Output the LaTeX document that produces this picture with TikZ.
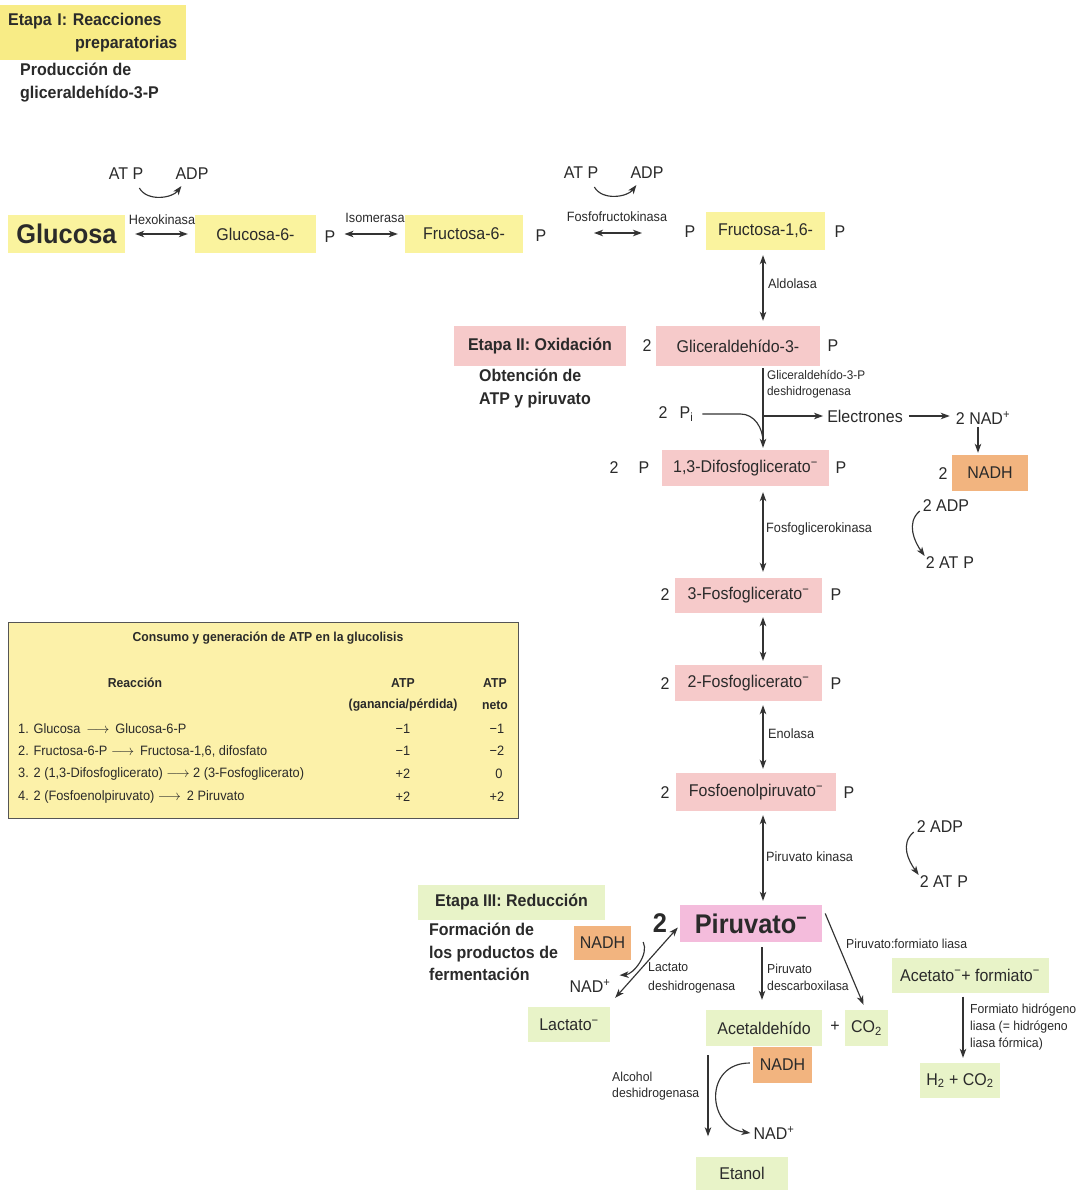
\documentclass[tikz,border=0pt]{standalone}
\usepackage{fontspec}
\setmainfont{Liberation Sans}[FakeStretch=0.94]
\usetikzlibrary{arrows.meta,calc}
\definecolor{txt}{HTML}{2A2A2A}
\definecolor{arrc}{HTML}{333333}
\definecolor{yelc}{HTML}{FAF39E}
\definecolor{yelh}{HTML}{F8EC86}
\definecolor{pinkc}{HTML}{F6CACA}
\definecolor{pyrc}{HTML}{F4BCDC}
\definecolor{orangec}{HTML}{F2B47F}
\definecolor{greenc}{HTML}{E8F3C8}
\definecolor{tabfill}{HTML}{FCF1A9}
\definecolor{tabborder}{HTML}{555555}
\newcommand\mainf{\fontsize{17}{20}\selectfont}
\newcommand\smallf{\fontsize{13.5}{17}\selectfont}
\newcommand\headf{\bfseries\fontsize{17}{22.5}\selectfont}
\newcommand\bigf{\bfseries\fontsize{27}{30}\selectfont}
\newcommand\tabf{\fontsize{13.6}{15}\selectfont}
\newcommand\tabh{\bfseries\fontsize{13}{15}\selectfont}
\begin{document}
\begin{tikzpicture}[x=1pt,y=-1pt,
  box/.style={inner sep=0pt, minimum height=38pt, text=txt, font=\mainf},
  ybox/.style={box, fill=yelc},
  pbox/.style={box, fill=pinkc},
  gbox/.style={box, fill=greenc},
  obox/.style={box, fill=orangec},
  lbl/.style={font=\mainf, text=txt, inner sep=1pt},
  sml/.style={font=\smallf, text=txt, inner sep=1pt},
  tb/.style={font=\tabf, text=txt, inner sep=1pt},
  tbh/.style={font=\tabh, text=txt, inner sep=1pt},
  head/.style={font=\headf, text=txt, inner sep=1pt},
  arr/.style={-{Stealth[length=9pt,width=6.5pt,inset=2.5pt]}, line width=1.15pt, draw=arrc},
  darr/.style={{Stealth[length=9pt,width=6.5pt,inset=2.5pt]}-{Stealth[length=9pt,width=6.5pt,inset=2.5pt]}, line width=1.15pt, draw=arrc},
  lin/.style={line width=1.15pt, draw=arrc}
]
\fill[white] (0,0) rectangle (1085,1190);
\useasboundingbox (0,0) rectangle (1085,1190);

% ---------- Stage I header
\node[fill=yelh, minimum width=186pt, minimum height=55pt, anchor=north west, inner xsep=8pt, inner ysep=0pt,
      text width=170pt, align=left, font=\headf, text=txt] (e1) at (0,5) {Etapa I: Reacciones\\\hspace*{67pt}preparatorias};
\node[head, anchor=north west, align=left] (prod) at (19,62) {Producción de\\gliceraldehído-3-P};

% ---------- Row 1
\node[ybox, minimum width=117pt, font=\bigf] (glu) at (66.5,234) {Glucosa};
\node[ybox, minimum width=121pt] (g6) at (255.5,234) {Glucosa-6-};
\node[lbl] (g6p) at (330,237) {P};
\node[ybox, minimum width=118pt] (f6) at (464,234) {Fructosa-6-};
\node[lbl] (f6p) at (541,236) {P};
\node[lbl] (f16pl) at (690,232) {P};
\node[ybox, minimum width=119pt] (f16) at (765.5,231) {Fructosa-1,6-};
\node[lbl] (f16pr) at (840,232) {P};

\draw[darr] ([xshift=10pt]glu.east) -- ([xshift=-7pt]g6.west);
\node[sml] (hexo) at (162,220) {Hexokinasa};
\draw[darr, shorten <=8pt, shorten >=7pt] (f6.west -| g6p.east) -- (f6.west);
\node[sml] (iso) at (375,218) {Isomerasa};
\coordinate (pf1) at (594,233);
\coordinate (pf2) at (642,233);
\draw[darr] (pf1) -- (pf2);
\node[sml] (pfk) at (617,217) {Fosfofructokinasa};

\node[lbl] (atp1) at (126,174) {AT P};
\node[lbl] (adp1) at (192,174) {ADP};
\draw[arr] ([xshift=-5pt,yshift=-7pt]atp1.south east) .. controls +(8,14) and +(-9,12) .. ([xshift=7pt,yshift=-5pt]adp1.south west);
\node[lbl] (atp2) at (581,173) {AT P};
\node[lbl] (adp2) at (647,173) {ADP};
\draw[arr] ([xshift=-5pt,yshift=-7pt]atp2.south east) .. controls +(8,14) and +(-9,12) .. ([xshift=7pt,yshift=-5pt]adp2.south west);

% ---------- main axis
\coordinate (ax) at (763,0);

% ---------- Row 2
\node[pbox, minimum width=172pt, minimum height=40pt, font=\headf] (e2) at (540,346) {Etapa II: Oxidación};
\node[lbl] (gla2) at (647,346) {2};
\node[pbox, minimum width=164pt, minimum height=40pt] (gla) at (738,346) {Gliceraldehído-3-};
\node[lbl] (glap) at (833,346) {P};
\node[head, anchor=north west, align=left] (obt) at (478,368) {Obtención de\\ATP y piruvato};

\draw[darr, shorten <=5pt, shorten >=5pt] (f16.south -| ax) -- (gla.north -| ax);
\node[sml, anchor=west] (aldo) at (767,284) {Aldolasa};

\node[pbox, minimum width=167pt, minimum height=36pt] (dpg) at (745.5,468) {1,3-Difosfoglicerato\textsuperscript{−}};
\draw[arr, shorten <=2pt, shorten >=2pt] (gla.south -| ax) -- (dpg.north -| ax);
\node[sml, anchor=north west, align=left, font=\fontsize{12.5}{16}\selectfont] (gapdh) at (766,369) {Gliceraldehído-3-P\\deshidrogenasa};

\node[lbl] (pi) at (676,414) {2\hspace{12pt}P\textsubscript{i}};
\coordinate (pij) at (763,442);
\draw[lin] ([xshift=8pt]pi.east) -- ++(38,0) .. controls +(14,0) and +(0,-14) .. (pij);
\node[lbl] (el) at (865,416) {Electrones};
\draw[arr, shorten >=3pt] (ax |- el) -- (el.west);
\node[lbl] (nad1) at (983,418) {2 NAD\textsuperscript{+}};
\draw[arr, shorten <=5pt, shorten >=5pt] (el.east) -- (nad1.west |- el.east);
\node[obox, minimum width=76pt, minimum height=36pt] (nadh1) at (990,473) {NADH};
\node[lbl] (nadh1n) at (943,474) {2};
\coordinate (nadx) at (978,0);
\draw[arr, shorten <=1pt, shorten >=2pt] (nad1.south -| nadx) -- (nadh1.north -| nadx);

\node[lbl] (dpg2) at (614,468) {2};
\node[lbl] (dpgpl) at (644,468) {P};
\node[lbl] (dpgp) at (841,468) {P};

% ---------- 3-PG
\node[pbox, minimum width=147pt, minimum height=35pt] (pg3) at (748.5,595.5) {3-Fosfoglicerato\textsuperscript{−}};
\node[lbl] (pg3n) at (665,595) {2};
\node[lbl] (pg3p) at (836,595) {P};
\draw[darr, shorten <=6pt, shorten >=6pt] (dpg.south -| ax) -- (pg3.north -| ax);
\node[sml, anchor=west] (pgk) at (765,529) {Fosfoglicerokinasa};

\node[lbl] (adp3) at (946,506) {2 ADP};
\node[lbl] (atp3) at (950,563) {2 AT\hspace{5pt}P};
\draw[arr] ([xshift=-2pt,yshift=-5pt]adp3.west) .. controls +(-14,12) and +(-10,-14) .. ([xshift=0pt,yshift=7pt]atp3.west);

% ---------- 2-PG
\node[pbox, minimum width=147pt, minimum height=36pt] (pg2) at (748.5,683) {2-Fosfoglicerato\textsuperscript{−}};
\node[lbl] (pg2n) at (665,684) {2};
\node[lbl] (pg2p) at (836,684) {P};
\draw[darr, shorten <=4pt, shorten >=4pt] (pg3.south -| ax) -- (pg2.north -| ax);

% ---------- PEP
\node[pbox, minimum width=160pt, minimum height=38pt] (pep) at (756,792) {Fosfoenolpiruvato\textsuperscript{−}};
\node[lbl] (pepn) at (665,793) {2};
\node[lbl] (pepp) at (849,793) {P};
\draw[darr, shorten <=4pt, shorten >=4pt] (pg2.south -| ax) -- (pep.north -| ax);
\node[sml, anchor=west] (eno) at (767,734) {Enolasa};

\node[lbl] (adp4) at (940,827) {2 ADP};
\node[lbl] (atp4) at (944,882) {2 AT\hspace{5pt}P};
\draw[arr] ([xshift=-2pt,yshift=-5pt]adp4.west) .. controls +(-14,12) and +(-10,-14) .. ([xshift=0pt,yshift=7pt]atp4.west);

% ---------- Pyruvate
\node[box, fill=pyrc, minimum width=142pt, minimum height=37pt, font=\bigf] (pyr) at (751,923.5) {Piruvato\textsuperscript{−}};
\node[lbl, font=\bigf] (pyr2) at (660,923) {2};
\draw[darr, shorten <=4pt, shorten >=4pt] (pep.south -| ax) -- (pyr.north -| ax);
\node[sml, anchor=west] (pk) at (765,857) {Piruvato kinasa};

% ---------- Table
\node[draw=tabborder, fill=tabfill, line width=1pt, minimum width=510pt, minimum height=196pt, anchor=north west, inner sep=0pt] (tab) at (8,622) {};
\node[tbh] (tt) at (268,638) {Consumo y generación de ATP en la glucolisis};
\node[tbh] (th1) at (135,683) {Reacción};
\node[tbh] (th2) at (403,683) {ATP};
\node[tbh] (th3) at (403,705) {(ganancia/pérdida)};
\node[tbh] (th4) at (495,683) {ATP};
\node[tbh] (th5) at (495,705) {neto};
\node[tb, anchor=west] (r1) at (17,729) {1. Glucosa \,$\longrightarrow$\, Glucosa-6-P};
\node[tb, anchor=west] (r2) at (17,751) {2. Fructosa-6-P $\longrightarrow$\, Fructosa-1,6, difosfato};
\node[tb, anchor=west] (r3) at (17,774) {3. 2 (1,3-Difosfoglicerato) $\longrightarrow$ 2 (3-Fosfoglicerato)};
\node[tb, anchor=west] (r4) at (17,797) {4. 2 (Fosfoenolpiruvato) $\longrightarrow$\, 2 Piruvato};
\node[tb] (v11) at (403,729) {−1};
\node[tb] (v21) at (403,751) {−1};
\node[tb] (v31) at (403,774) {+2};
\node[tb] (v41) at (403,797) {+2};
\node[tb] (v12) at (497,729) {−1};
\node[tb] (v22) at (497,751) {−2};
\node[tb] (v32) at (499,774) {0};
\node[tb] (v42) at (497,797) {+2};

% ---------- Stage III
\node[gbox, minimum width=187pt, minimum height=35pt, font=\headf] (e3) at (511.5,902.5) {Etapa III: Reducción};
\node[head, anchor=north west, align=left] (form) at (428,922) {Formación de\\los productos de\\fermentación};
\node[obox, minimum width=57pt, minimum height=34pt] (nadh2) at (602.5,943) {NADH};
\node[lbl] (nad2) at (590,986) {NAD\textsuperscript{+}};
\node[gbox, minimum width=82pt, minimum height=35pt] (lac) at (569,1024.5) {Lactato\textsuperscript{−}};
\draw[darr] ([xshift=-2pt,yshift=-4pt]pyr.west) -- ([xshift=5pt,yshift=9pt]lac.north east);
\draw[arr] ([xshift=12pt,yshift=1pt]nadh2.east) .. controls +(6,12) and +(14,-1) .. ([xshift=8pt,yshift=3pt]nad2.north east);
\node[sml, anchor=north west, align=left, font=\fontsize{13}{19}\selectfont] (ldh) at (647,961) {Lactato\\deshidrogenasa};

\node[gbox, minimum width=116pt, minimum height=36pt] (acd) at (764,1028) {Acetaldehído};
\node[lbl] (plus) at (835,1027) {+};
\node[gbox, minimum width=43pt, minimum height=36pt] (co2) at (866.5,1028) {CO\textsubscript{2}};
\coordinate (pdx) at (762,0);
\draw[arr, shorten <=5pt, shorten >=10pt] (pyr.south -| pdx) -- (acd.north -| pdx);
\node[sml, anchor=north west, align=left, font=\fontsize{13}{17}\selectfont] (pdc) at (766,963) {Piruvato\\descarboxilasa};

\draw[arr] ([xshift=3pt,yshift=10pt]pyr.east) -- ([xshift=-3pt,yshift=5pt]co2.north);
\node[sml, anchor=west, font=\fontsize{13}{16}\selectfont] (pfl) at (845,944) {Piruvato:formiato liasa};

\node[gbox, minimum width=157pt, minimum height=35pt] (acf) at (970,975) {Acetato\textsuperscript{−}+ formiato\textsuperscript{−}};
\node[gbox, minimum width=80pt, minimum height=35pt] (h2) at (960,1080.5) {H\textsubscript{2} + CO\textsubscript{2}};
\coordinate (fx) at (963,0);
\draw[arr, shorten <=4pt, shorten >=5pt] (acf.south -| fx) -- (h2.north -| fx);
\node[sml, anchor=north west, align=left, font=\fontsize{13}{17}\selectfont] (fhl) at (969,1003) {Formiato hidrógeno\\liasa (= hidrógeno\\liasa fórmica)};

\node[obox, minimum width=59pt, minimum height=36pt] (nadh3) at (782.5,1065) {NADH};
\node[gbox, minimum width=92pt, minimum height=34pt] (et) at (742,1173.5) {Etanol};
\node[lbl] (nad3) at (774,1133) {NAD\textsuperscript{+}};
\coordinate (alx) at (708,0);
\draw[arr, shorten <=9pt, shorten >=20pt] (acd.south -| alx) -- (et.north -| alx);
\draw[arr] ([xshift=-3pt,yshift=2pt]nadh3.west) .. controls +(-46,0) and +(-44,-6) .. ([xshift=-2pt]nad3.west);
\node[sml, anchor=north west, align=left, font=\fontsize{13}{16}\selectfont] (adh) at (611,1071) {Alcohol\\deshidrogenasa};
\end{tikzpicture}
\end{document}
